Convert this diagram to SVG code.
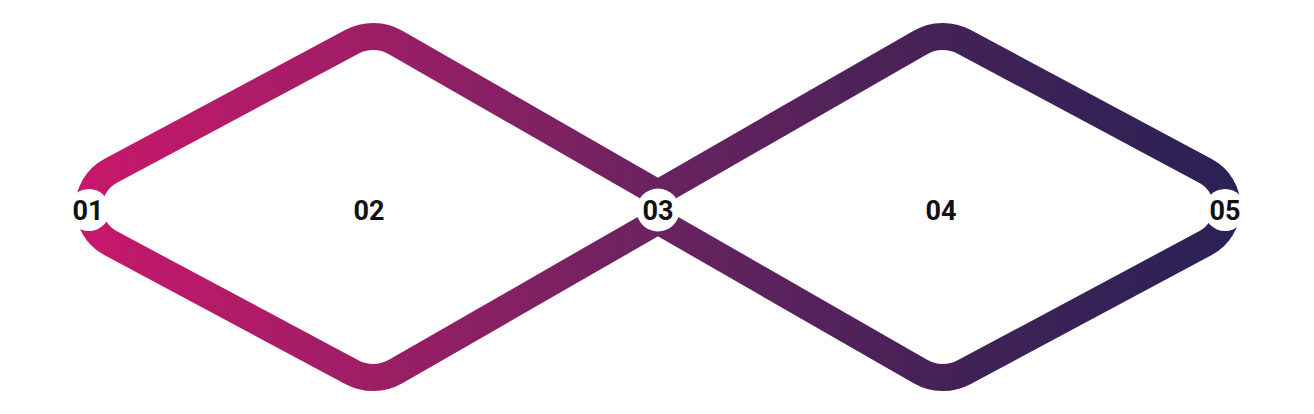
<svg xmlns="http://www.w3.org/2000/svg" width="1314" height="414" viewBox="0 0 1314 414">
  <defs>
    <linearGradient id="grad" gradientUnits="userSpaceOnUse" x1="75" y1="0" x2="1240" y2="0">
      <stop offset="0" stop-color="#c8186b"/>
      <stop offset="0.25" stop-color="#9e1e65"/>
      <stop offset="0.5" stop-color="#6a2260"/>
      <stop offset="0.75" stop-color="#432256"/>
      <stop offset="1" stop-color="#2a2156"/>
    </linearGradient>
  </defs>
  <style>
    .loop { fill: none; stroke: url(#grad); stroke-width: 27; }
    .dot { fill: #ffffff; }
    .lbl { font-family: Roboto, "Liberation Sans", sans-serif; font-weight: 700; font-size: 27px; fill: #111111; text-anchor: middle; }
  </style>
  <g id="connectors">
    <path class="loop" d="M 110.6,170.8 L 352,41.76 A 45 45 0 0 1 395.63,42.43 L 654.84,191.39 A 18 18 0 0 1 654.84,222.61 L 395.63,371.57 A 45 45 0 0 1 352,372.24 L 110.6,243.2 A 41 41 0 0 1 110.6,170.8 Z"/>
    <path class="loop" d="M 1205.4,170.8 L 964,41.76 A 45 45 0 0 0 920.37,42.43 L 661.16,191.39 A 18 18 0 0 0 661.16,222.61 L 920.37,371.57 A 45 45 0 0 0 964,372.24 L 1205.4,243.2 A 41 41 0 0 0 1205.4,170.8 Z"/>
  </g>
  <g id="node-01">
    <circle class="dot" cx="89" cy="210" r="21"/>
    <text class="lbl" x="88" y="219.5">01</text>
  </g>
  <g id="node-02">
    <text class="lbl" x="369" y="219.5">02</text>
  </g>
  <g id="node-03">
    <circle class="dot" cx="658" cy="210" r="21.5"/>
    <text class="lbl" x="658" y="219.5">03</text>
  </g>
  <g id="node-04">
    <text class="lbl" x="941" y="219.5">04</text>
  </g>
  <g id="node-05">
    <circle class="dot" cx="1225" cy="210" r="21"/>
    <text class="lbl" x="1225" y="219.5">05</text>
  </g>
</svg>
